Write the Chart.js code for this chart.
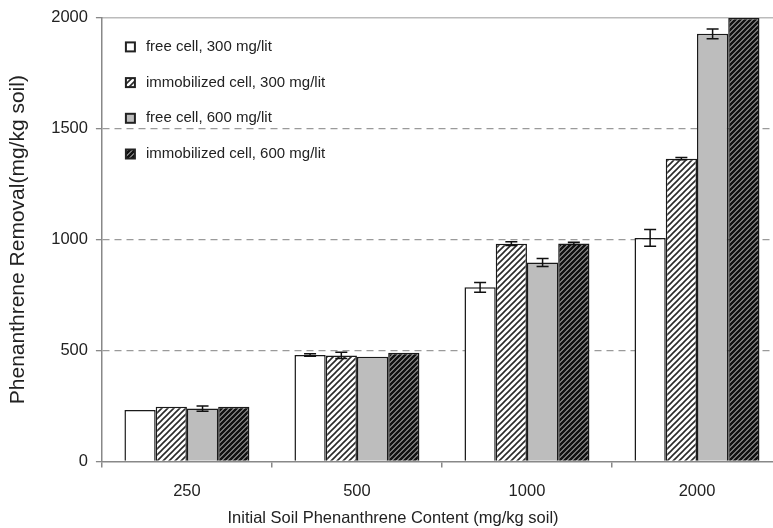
<!DOCTYPE html>
<html lang="en">
<head>
  <meta charset="UTF-8">
  <title>Phenanthrene Removal</title>
  <script src="https://cdn.jsdelivr.net/npm/chart.js"></script>
  <style>
    html, body {
      margin: 0;
      padding: 0;
      background: #fff;
      overflow: hidden;
    }
    #box {
      width: 784px;
      height: 528px;
      position: relative;
    }
  </style>
</head>
<body>
<div id="box">
  <canvas id="chart"></canvas>
</div>

<script>
  // categories (initial soil content, mg/kg soil)
  const categories = ['250', '500', '1000', '2000'];
  const seriesNames = [
    'free cell, 300 mg/lit',
    'immobilized cell, 300 mg/lit',
    'free cell, 600 mg/lit',
    'immobilized cell, 600 mg/lit'
  ];

  // removal values (mg/kg soil)
  const free300 = [232, 480, 785, 1008];
  const immob300 = [246, 478, 982, 1365];
  const free600 = [238, 472, 897, 1928];
  const immob600 = [246, 490, 983, 2000];

  // error bar half-widths
  const free300Err = [0, 6, 22, 38];
  const immob300Err = [0, 14, 8, 5];
  const free600Err = [12, 0, 18, 22];
  const immob600Err = [0, 0, 5, 0];

  const yTicks = [0, 500, 1000, 1500, 2000];

  const FONT = '"Liberation Sans", Arial, sans-serif';
  const canvas = document.getElementById('chart');
  const mainCtx = canvas.getContext('2d');

  // diagonal "/" hatch pattern
  function hatch(bg, fg, lw, size) {
    const c = document.createElement('canvas');
    c.width = size;
    c.height = size;
    const g = c.getContext('2d');
    g.fillStyle = bg;
    g.fillRect(0, 0, size, size);
    g.strokeStyle = fg;
    g.lineWidth = lw;
    g.beginPath();
    g.moveTo(-1, size + 1); g.lineTo(size + 1, -1);
    g.moveTo(-2, 2); g.lineTo(2, -2);
    g.moveTo(size - 2, size + 2); g.lineTo(size + 2, size - 2);
    g.stroke();
    return mainCtx.createPattern(c, 'repeat');
  }

  const lightHatch = hatch('#ffffff', '#2a2a2a', 1.6, 6);
  const darkHatch = hatch('#d0d0d0', '#111111', 2.8, 5);

  // error bars drawn from the y scale
  const errorBars = {
    id: 'errorBars',
    afterDatasetsDraw(chart) {
      const ctx = chart.ctx;
      const y = chart.scales.y;
      ctx.save();
      ctx.strokeStyle = '#111';
      ctx.lineWidth = 1.5;
      chart.data.datasets.forEach((ds, di) => {
        const meta = chart.getDatasetMeta(di);
        meta.data.forEach((bar, i) => {
          const e = ds.errors[i];
          if (!e) return;
          const v = ds.data[i];
          const top = y.getPixelForValue(v + e);
          const bot = y.getPixelForValue(v - e);
          const x = bar.x;
          ctx.beginPath();
          ctx.moveTo(x, top); ctx.lineTo(x, bot);
          ctx.moveTo(x - 6, top); ctx.lineTo(x + 6, top);
          ctx.moveTo(x - 6, bot); ctx.lineTo(x + 6, bot);
          ctx.stroke();
        });
      });
      ctx.restore();
    }
  };

  // legend inside the plot, top-left
  const legendBox = {
    id: 'legendBox',
    afterDraw(chart) {
      const ctx = chart.ctx;
      const a = chart.chartArea;
      ctx.save();
      ctx.font = '15px ' + FONT;
      ctx.textBaseline = 'middle';
      chart.data.datasets.forEach((ds, i) => {
        const yy = a.top + 29 + i * 35.7;
        const xx = a.left + 24;
        ctx.fillStyle = ds.backgroundColor;
        ctx.fillRect(xx, yy - 4.5, 9, 9);
        ctx.strokeStyle = '#222';
        ctx.lineWidth = 2;
        ctx.strokeRect(xx, yy - 4.5, 9, 9);
        ctx.fillStyle = '#222';
        ctx.fillText(ds.label, xx + 20, yy);
      });
      ctx.restore();
    }
  };

  function makeSet(i, data, errors, fill) {
    return {
      label: seriesNames[i],
      data: data,
      errors: errors,
      backgroundColor: fill,
      borderColor: '#1a1a1a',
      borderWidth: 1.5,
      categoryPercentage: 0.735,
      barPercentage: 1.0
    };
  }

  new Chart(canvas, {
    type: 'bar',
    data: {
      labels: categories,
      datasets: [
        makeSet(0, free300, free300Err, '#ffffff'),
        makeSet(1, immob300, immob300Err, lightHatch),
        makeSet(2, free600, free600Err, '#bdbdbd'),
        makeSet(3, immob600, immob600Err, darkHatch)
      ]
    },
    options: {
      responsive: true,
      maintainAspectRatio: false,
      animation: false,
      layout: { padding: { top: 5, left: 4, right: 2, bottom: 0 } },
      plugins: {
        legend: { display: false },
        tooltip: { enabled: false },
        title: {
          display: true,
          position: 'bottom',
          text: 'Initial Soil Phenanthrene Content (mg/kg soil)',
          color: '#222',
          font: { family: FONT, size: 16.5, weight: 'normal' },
          padding: { top: -7, bottom: 0 }
        }
      },
      scales: {
        x: {
          grid: {
            drawOnChartArea: false,
            tickLength: 6,
            tickColor: '#888',
            lineWidth: 1.5
          },
          border: { color: '#888', width: 1.5 },
          ticks: {
            color: '#222',
            padding: 14,
            font: { family: FONT, size: 16.5 }
          }
        },
        x2: {
          type: 'category',
          position: 'top',
          grid: { display: false },
          ticks: { display: false },
          border: { color: '#bbb', width: 1.5 }
        },
        y: {
          min: 0,
          max: 2000,
          afterBuildTicks: (axis) => {
            axis.ticks = yTicks.map(v => ({ value: v }));
          },
          grid: {
            color: (c) => (c.tick && (c.tick.value === 0 || c.tick.value === 2000)) ? 'rgba(0,0,0,0)' : '#9a9a9a',
            lineWidth: 1.3,
            tickLength: 6,
            tickColor: '#888',
            tickBorderDash: []
          },
          border: { color: '#888', width: 1.5, dash: [7, 5] },
          ticks: {
            color: '#222',
            padding: 8,
            font: { family: FONT, size: 16.5 },
            callback: (v) => String(v)
          },
          title: {
            display: true,
            text: 'Phenanthrene Removal(mg/kg soil)',
            color: '#222',
            font: { family: FONT, size: 21 },
            padding: { top: 2, bottom: 12 }
          }
        }
      }
    },
    plugins: [errorBars, legendBox]
  });
</script>
</body>
</html>
